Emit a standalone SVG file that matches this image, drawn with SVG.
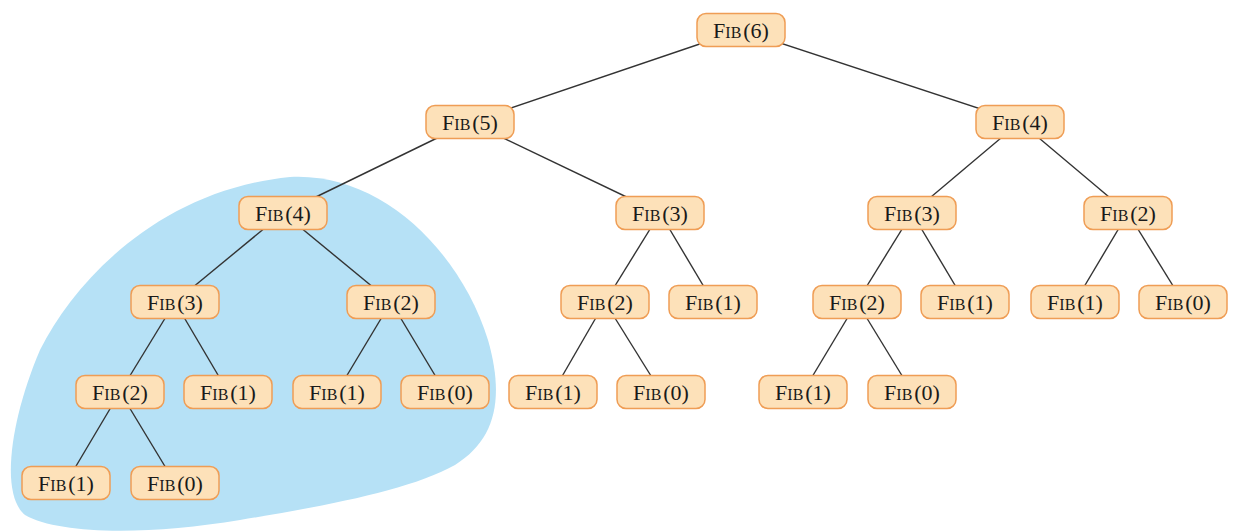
<svg xmlns="http://www.w3.org/2000/svg" width="1233" height="531" viewBox="0 0 1233 531">
<style>
.b{fill:#fde1b9;stroke:#ef9d55;stroke-width:1.5}
.n text{font-family:"Liberation Serif","Times New Roman",serif;font-size:22px;fill:#1a1a1a;text-anchor:middle}
.n .sc{font-size:16px}
#edges line{stroke:#333;stroke-width:1.4}
</style>
<rect width="1233" height="531" fill="#fff"/>
<path id="blob" d="M290,177 C380,172 460,250 488,340 C505,400 495,440 455,465 C410,490 330,505 240,520 C150,535 60,535 25,515 C0,495 10,420 40,350 C75,280 160,190 290,177 Z" fill="#b6e1f6"/>
<g id="edges">
<line x1="741" y1="30" x2="470" y2="122"/>
<line x1="741" y1="30" x2="1020" y2="122"/>
<line x1="470" y1="122" x2="283" y2="213"/>
<line x1="470" y1="122" x2="660" y2="213"/>
<line x1="1020" y1="122" x2="912" y2="213"/>
<line x1="1020" y1="122" x2="1128" y2="213"/>
<line x1="283" y1="213" x2="175" y2="302"/>
<line x1="283" y1="213" x2="391" y2="302"/>
<line x1="660" y1="213" x2="605" y2="302"/>
<line x1="660" y1="213" x2="713" y2="302"/>
<line x1="912" y1="213" x2="857" y2="302"/>
<line x1="912" y1="213" x2="965" y2="302"/>
<line x1="1128" y1="213" x2="1075" y2="302"/>
<line x1="1128" y1="213" x2="1183" y2="302"/>
<line x1="175" y1="302" x2="120" y2="392"/>
<line x1="175" y1="302" x2="228" y2="392"/>
<line x1="391" y1="302" x2="337" y2="392"/>
<line x1="391" y1="302" x2="445" y2="392"/>
<line x1="605" y1="302" x2="553" y2="392"/>
<line x1="605" y1="302" x2="661" y2="392"/>
<line x1="857" y1="302" x2="803" y2="392"/>
<line x1="857" y1="302" x2="912" y2="392"/>
<line x1="120" y1="392" x2="66" y2="483"/>
<line x1="120" y1="392" x2="175" y2="483"/>
</g>
<g id="n6" class="n" transform="translate(741,30)"><rect class="b" x="-44" y="-16.5" width="88" height="33" rx="9"/><text y="7.5">F<tspan class="sc">IB</tspan><tspan dx="2">(6)</tspan></text></g>
<g id="n5" class="n" transform="translate(470,122)"><rect class="b" x="-44" y="-16.5" width="88" height="33" rx="9"/><text y="7.5">F<tspan class="sc">IB</tspan><tspan dx="2">(5)</tspan></text></g>
<g id="n4r" class="n" transform="translate(1020,122)"><rect class="b" x="-44" y="-16.5" width="88" height="33" rx="9"/><text y="7.5">F<tspan class="sc">IB</tspan><tspan dx="2">(4)</tspan></text></g>
<g id="n4l" class="n" transform="translate(283,213)"><rect class="b" x="-44" y="-16.5" width="88" height="33" rx="9"/><text y="7.5">F<tspan class="sc">IB</tspan><tspan dx="2">(4)</tspan></text></g>
<g id="n3a" class="n" transform="translate(660,213)"><rect class="b" x="-44" y="-16.5" width="88" height="33" rx="9"/><text y="7.5">F<tspan class="sc">IB</tspan><tspan dx="2">(3)</tspan></text></g>
<g id="n3b" class="n" transform="translate(912,213)"><rect class="b" x="-44" y="-16.5" width="88" height="33" rx="9"/><text y="7.5">F<tspan class="sc">IB</tspan><tspan dx="2">(3)</tspan></text></g>
<g id="n2a" class="n" transform="translate(1128,213)"><rect class="b" x="-44" y="-16.5" width="88" height="33" rx="9"/><text y="7.5">F<tspan class="sc">IB</tspan><tspan dx="2">(2)</tspan></text></g>
<g id="n3c" class="n" transform="translate(175,302)"><rect class="b" x="-44" y="-16.5" width="88" height="33" rx="9"/><text y="7.5">F<tspan class="sc">IB</tspan><tspan dx="2">(3)</tspan></text></g>
<g id="n2b" class="n" transform="translate(391,302)"><rect class="b" x="-44" y="-16.5" width="88" height="33" rx="9"/><text y="7.5">F<tspan class="sc">IB</tspan><tspan dx="2">(2)</tspan></text></g>
<g id="n2c" class="n" transform="translate(605,302)"><rect class="b" x="-44" y="-16.5" width="88" height="33" rx="9"/><text y="7.5">F<tspan class="sc">IB</tspan><tspan dx="2">(2)</tspan></text></g>
<g id="n1a" class="n" transform="translate(713,302)"><rect class="b" x="-44" y="-16.5" width="88" height="33" rx="9"/><text y="7.5">F<tspan class="sc">IB</tspan><tspan dx="2">(1)</tspan></text></g>
<g id="n2d" class="n" transform="translate(857,302)"><rect class="b" x="-44" y="-16.5" width="88" height="33" rx="9"/><text y="7.5">F<tspan class="sc">IB</tspan><tspan dx="2">(2)</tspan></text></g>
<g id="n1b" class="n" transform="translate(965,302)"><rect class="b" x="-44" y="-16.5" width="88" height="33" rx="9"/><text y="7.5">F<tspan class="sc">IB</tspan><tspan dx="2">(1)</tspan></text></g>
<g id="n1c" class="n" transform="translate(1075,302)"><rect class="b" x="-44" y="-16.5" width="88" height="33" rx="9"/><text y="7.5">F<tspan class="sc">IB</tspan><tspan dx="2">(1)</tspan></text></g>
<g id="n0a" class="n" transform="translate(1183,302)"><rect class="b" x="-44" y="-16.5" width="88" height="33" rx="9"/><text y="7.5">F<tspan class="sc">IB</tspan><tspan dx="2">(0)</tspan></text></g>
<g id="n2e" class="n" transform="translate(120,392)"><rect class="b" x="-44" y="-16.5" width="88" height="33" rx="9"/><text y="7.5">F<tspan class="sc">IB</tspan><tspan dx="2">(2)</tspan></text></g>
<g id="n1d" class="n" transform="translate(228,392)"><rect class="b" x="-44" y="-16.5" width="88" height="33" rx="9"/><text y="7.5">F<tspan class="sc">IB</tspan><tspan dx="2">(1)</tspan></text></g>
<g id="n1e" class="n" transform="translate(337,392)"><rect class="b" x="-44" y="-16.5" width="88" height="33" rx="9"/><text y="7.5">F<tspan class="sc">IB</tspan><tspan dx="2">(1)</tspan></text></g>
<g id="n0b" class="n" transform="translate(445,392)"><rect class="b" x="-44" y="-16.5" width="88" height="33" rx="9"/><text y="7.5">F<tspan class="sc">IB</tspan><tspan dx="2">(0)</tspan></text></g>
<g id="n1f" class="n" transform="translate(553,392)"><rect class="b" x="-44" y="-16.5" width="88" height="33" rx="9"/><text y="7.5">F<tspan class="sc">IB</tspan><tspan dx="2">(1)</tspan></text></g>
<g id="n0c" class="n" transform="translate(661,392)"><rect class="b" x="-44" y="-16.5" width="88" height="33" rx="9"/><text y="7.5">F<tspan class="sc">IB</tspan><tspan dx="2">(0)</tspan></text></g>
<g id="n1g" class="n" transform="translate(803,392)"><rect class="b" x="-44" y="-16.5" width="88" height="33" rx="9"/><text y="7.5">F<tspan class="sc">IB</tspan><tspan dx="2">(1)</tspan></text></g>
<g id="n0d" class="n" transform="translate(912,392)"><rect class="b" x="-44" y="-16.5" width="88" height="33" rx="9"/><text y="7.5">F<tspan class="sc">IB</tspan><tspan dx="2">(0)</tspan></text></g>
<g id="n1h" class="n" transform="translate(66,483)"><rect class="b" x="-44" y="-16.5" width="88" height="33" rx="9"/><text y="7.5">F<tspan class="sc">IB</tspan><tspan dx="2">(1)</tspan></text></g>
<g id="n0e" class="n" transform="translate(175,483)"><rect class="b" x="-44" y="-16.5" width="88" height="33" rx="9"/><text y="7.5">F<tspan class="sc">IB</tspan><tspan dx="2">(0)</tspan></text></g>
</svg>
